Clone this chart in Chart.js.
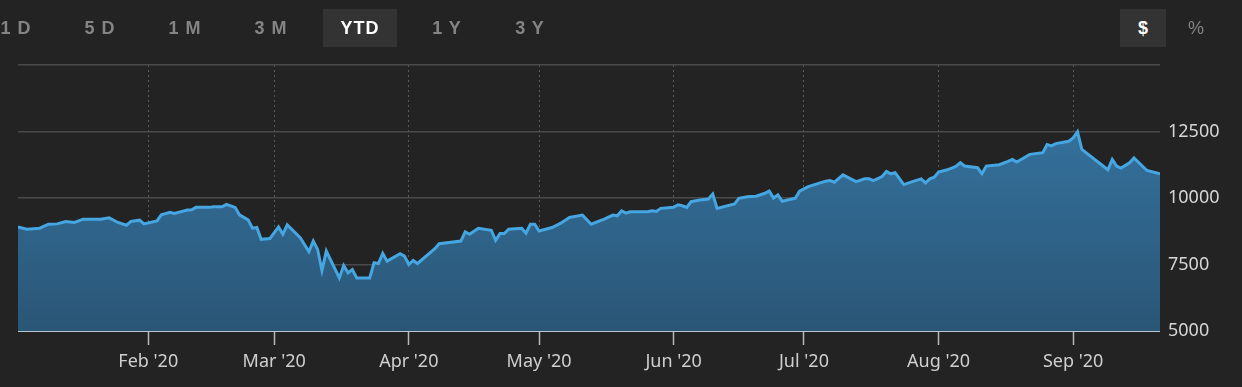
<!DOCTYPE html>
<html>
<head>
<meta charset="utf-8">
<script src="https://cdn.jsdelivr.net/npm/chart.js"></script>
<style>
    html, body { margin: 0; padding: 0; background: #232323; }
    #wrap { position: relative; width: 1242px; height: 387px; overflow: hidden; }
    #grafico { position: absolute; left: 0; top: 0; }
    .btn {
        position: absolute; top: 9px; height: 38px; width: 74px;
        text-align: center; font: bold 18px 'Liberation Sans', Arial, sans-serif;
        line-height: 38px;
        color: #848484; letter-spacing: 1px;
    }
    .btn.activo { background: #333333; color: #ffffff; }
</style>
</head>
<body>
<div id="wrap">
    <canvas id="grafico" width="1242" height="387"></canvas>
    <span class="btn" style="left:-21px">1 D</span>
    <span class="btn" style="left:63px">5 D</span>
    <span class="btn" style="left:148px">1 M</span>
    <span class="btn" style="left:234px">3 M</span>
    <span class="btn activo" style="left:323px">YTD</span>
    <span class="btn" style="left:410px">1 Y</span>
    <span class="btn" style="left:493px">3 Y</span>
    <span class="btn activo" style="left:1120px;width:46px;letter-spacing:0">$</span>
    <span class="btn" style="left:1173px;width:46px;letter-spacing:0;font-weight:normal">%</span>
</div>
<script>
"use strict"

// Fechas y valores de la cartera (YTD 2020)
const fechas = [
    '2020-01-02', '2020-01-04', '2020-01-07', '2020-01-09', '2020-01-11', '2020-01-13', '2020-01-15', '2020-01-17',
    '2020-01-21', '2020-01-23', '2020-01-25', '2020-01-27', '2020-01-28', '2020-01-30', '2020-01-31',
    '2020-02-03', '2020-02-04', '2020-02-06', '2020-02-07', '2020-02-10', '2020-02-11', '2020-02-12', '2020-02-15',
    '2020-02-16', '2020-02-18', '2020-02-19', '2020-02-21', '2020-02-22', '2020-02-24', '2020-02-25', '2020-02-26',
    '2020-02-27', '2020-02-29',
    '2020-03-02', '2020-03-03', '2020-03-04', '2020-03-07', '2020-03-09', '2020-03-10', '2020-03-11', '2020-03-12',
    '2020-03-13', '2020-03-16', '2020-03-17', '2020-03-18', '2020-03-19', '2020-03-20', '2020-03-23', '2020-03-24',
    '2020-03-25', '2020-03-26', '2020-03-27', '2020-03-30', '2020-03-31',
    '2020-04-01', '2020-04-02', '2020-04-03', '2020-04-07', '2020-04-08', '2020-04-13', '2020-04-14', '2020-04-15',
    '2020-04-17', '2020-04-20', '2020-04-21', '2020-04-22', '2020-04-23', '2020-04-24', '2020-04-27', '2020-04-28',
    '2020-04-29', '2020-04-30',
    '2020-05-01', '2020-05-04', '2020-05-06', '2020-05-08', '2020-05-11', '2020-05-13', '2020-05-16', '2020-05-18',
    '2020-05-19', '2020-05-20', '2020-05-21', '2020-05-22', '2020-05-26', '2020-05-27', '2020-05-28', '2020-05-29',
    '2020-06-01', '2020-06-02', '2020-06-03', '2020-06-04', '2020-06-05', '2020-06-07', '2020-06-09', '2020-06-10',
    '2020-06-11', '2020-06-15', '2020-06-16', '2020-06-18', '2020-06-20', '2020-06-22', '2020-06-23', '2020-06-24',
    '2020-06-25', '2020-06-26', '2020-06-29', '2020-06-30',
    '2020-07-02', '2020-07-06', '2020-07-07', '2020-07-08', '2020-07-10', '2020-07-13', '2020-07-15', '2020-07-16',
    '2020-07-17', '2020-07-19', '2020-07-20', '2020-07-21', '2020-07-22', '2020-07-24', '2020-07-26', '2020-07-28',
    '2020-07-29', '2020-07-30', '2020-07-31',
    '2020-08-01', '2020-08-03', '2020-08-05', '2020-08-06', '2020-08-07', '2020-08-10', '2020-08-11', '2020-08-12',
    '2020-08-15', '2020-08-17', '2020-08-18', '2020-08-19', '2020-08-21', '2020-08-22', '2020-08-25', '2020-08-26',
    '2020-08-27', '2020-08-28', '2020-08-31',
    '2020-09-01', '2020-09-02', '2020-09-03', '2020-09-09', '2020-09-10', '2020-09-11', '2020-09-12', '2020-09-14',
    '2020-09-15', '2020-09-18', '2020-09-21'
];

const valores = [
    8913, 8826, 8864, 9015, 9027, 9118, 9080, 9205,
    9205, 9254, 9080, 8977, 9118, 9167, 9027,
    9140, 9368, 9459, 9421, 9546, 9557, 9648, 9648,
    9671, 9671, 9762, 9648, 9368, 9178, 8864, 8890,
    8447, 8474,
    8913, 8636, 8989, 8511, 7981, 8383, 8068, 7273,
    8004, 6996, 7462, 7186, 7311, 6996, 6996, 7564,
    7538, 7917, 7625, 7905, 7815,
    7500, 7652, 7538, 8095, 8284, 8383, 8724, 8636,
    8864, 8788, 8409, 8663, 8663, 8826, 8864, 8674,
    9015, 9015,
    8761, 8890, 9053, 9269, 9356, 9015, 9205, 9356,
    9330, 9519, 9432, 9481, 9481, 9519, 9496, 9610,
    9648, 9746, 9709, 9648, 9860, 9924, 9962, 10152,
    9610, 9773, 9989, 10049, 10065, 10178, 10265, 10000,
    10114, 9875, 9989, 10254,
    10428, 10633, 10655, 10595, 10871, 10618, 10720, 10720,
    10655, 10807, 10996, 10909, 10947, 10504, 10618, 10720,
    10568, 10720, 10784,
    10974, 11061, 11186, 11326, 11201, 11137, 10909, 11201,
    11250, 11375, 11451, 11353, 11542, 11640, 11705, 12008,
    11959, 12046, 12133,
    12262, 12489, 11830, 11061, 11451, 11201, 11125, 11326,
    11504, 11034, 10909
];

// Marcas del eje X (inicio de cada mes)
const fechasMes = ['2020-02-01', '2020-03-01', '2020-04-01', '2020-05-01', '2020-06-01', '2020-07-01', '2020-08-01', '2020-09-01'];
const etiquetasMes = ["Feb '20", "Mar '20", "Apr '20", "May '20", "Jun '20", "Jul '20", "Aug '20", "Sep '20"];

// Marcas del eje Y
const marcasY = [5000, 7500, 10000, 12500, 15000];

document.addEventListener('DOMContentLoaded', e => {

    // Dias desde el 1 de enero
    const dia = f => (Date.parse(f) - Date.parse('2020-01-01')) / 86400000;

    const puntos = fechas.map((f, i) => ({ x: dia(f), y: valores[i] }));
    const diasMes = fechasMes.map(dia);

    const ctx = document.getElementById('grafico');

    new Chart(ctx, {
        type: 'line',
        data: {
            datasets: [{
                data: puntos,
                borderColor: '#45a6e2',
                borderWidth: 3,
                pointRadius: 0,
                tension: 0,
                fill: 'start',
                backgroundColor: c => {
                    const area = c.chart.chartArea;
                    if (!area) return '#2f6690';
                    const g = c.chart.ctx.createLinearGradient(0, area.top, 0, area.bottom);
                    g.addColorStop(0, '#3779a8');
                    g.addColorStop(1, '#2a5676');
                    return g;
                }
            }]
        },
        options: {
            responsive: false,
            animation: false,
            layout: { padding: { left: 18, top: 65, right: 0, bottom: 0 } },
            plugins: { legend: { display: false }, tooltip: { enabled: false } },
            scales: {
                x: {
                    type: 'linear',
                    min: dia(fechas[0]),
                    max: dia(fechas[fechas.length - 1]),
                    afterBuildTicks: s => { s.ticks = diasMes.map(v => ({ value: v })); },
                    afterFit: s => { s.height = 56; },
                    grid: {
                        color: '#5a5a5a',
                        lineWidth: 1,
                        tickLength: 14,
                        tickColor: '#b8b8b8',
                        tickWidth: 1.5,
                        tickBorderDash: []
                    },
                    border: { display: false, dash: [2, 3] },
                    ticks: {
                        autoSkip: false,
                        maxRotation: 0,
                        padding: 6,
                        color: '#cfcfcf',
                        font: { family: 'Noto Sans', size: 18 },
                        callback: (v) => etiquetasMes[diasMes.indexOf(v)] || ''
                    }
                },
                y: {
                    position: 'right',
                    min: 5000,
                    max: 15000,
                    afterBuildTicks: s => { s.ticks = marcasY.map(v => ({ value: v })); },
                    afterFit: s => { s.width = 82; },
                    grid: {
                        drawTicks: false,
                        color: c => c.tick && c.tick.value === 5000 ? '#b9c5d1' : '#4a4a4a',
                        lineWidth: c => c.tick && c.tick.value === 5000 ? 2 : 1.5
                    },
                    border: { display: false },
                    ticks: {
                        padding: 8,
                        color: '#d6d6d6',
                        font: { family: 'Noto Sans', size: 18 },
                        callback: v => v === 15000 ? '' : String(v)
                    }
                }
            }
        }
    });
});
</script>
</body>
</html>
